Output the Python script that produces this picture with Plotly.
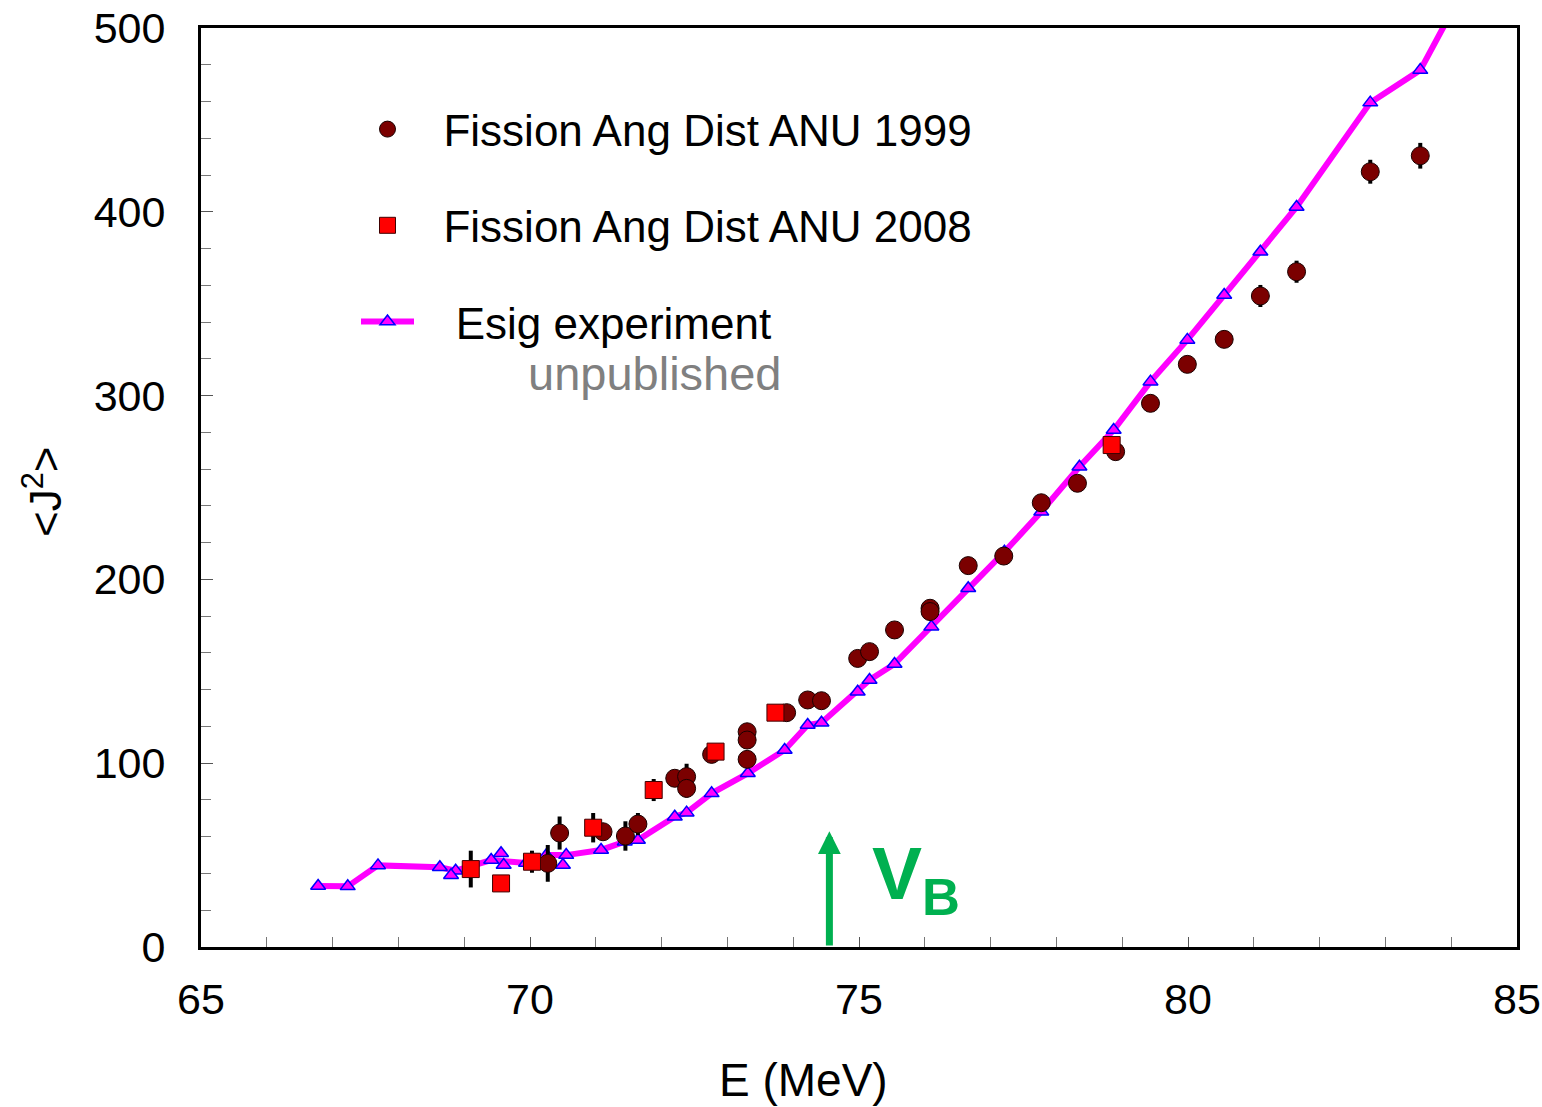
import plotly.graph_objects as go

# ---------------- data ----------------
# Fission angular distribution ANU 1999 (E, <J2>, error)
e_1999 = [70.27, 70.45, 71.11, 71.45, 71.64, 72.20, 72.38, 72.38, 72.76, 73.30, 73.30, 73.30,
          73.90, 74.22, 74.43, 74.98, 75.16, 75.54, 76.08, 76.08, 76.66, 77.20, 77.77, 78.32,
          78.90, 79.43, 79.99, 80.55, 81.10, 81.65, 82.77, 83.53]
j2_1999 = [45.5, 62.0, 62.7, 60.4, 66.9, 91.8, 92.7, 86.3, 104.8, 117.1, 112.6, 102.1,
           127.5, 134.4, 134.0, 157.0, 160.7, 172.5, 184.3, 182.5, 207.5, 212.7, 241.7, 252.3,
           269.5, 295.8, 317.0, 330.6, 354.2, 367.4, 421.8, 430.5]
err_1999 = [10, 9, 4, 8, 6, 4, 7, 5, 3, 3, 3, 3,
            2, 2, 2, 2, 2, 2, 2, 2, 2, 2, 2, 2,
            2, 3, 4, 4, 6, 6, 6.5, 7]

# Fission angular distribution ANU 2008
e_2008 = [69.10, 69.56, 70.03, 70.96, 71.88, 72.82, 73.73, 78.84]
j2_2008 = [42.4, 34.6, 46.4, 64.9, 85.4, 106.3, 127.5, 273.1]
err_2008 = [10, 3, 6, 8, 6, 3, 2, 2]

# Esig experiment (line through points)
e_esig = [66.78, 67.23, 67.69, 68.63, 68.87, 69.41, 69.94, 70.25, 70.55, 71.08, 71.44, 71.64,
          72.20, 72.38, 72.76, 73.31, 73.87, 74.22, 74.43, 74.98, 75.16, 75.54, 76.10, 76.66,
          77.21, 77.77, 78.35, 78.87, 79.43, 79.99, 80.55, 81.10, 81.65, 82.77, 83.53, 84.10]
j2_esig = [33.2, 33.0, 44.4, 43.4, 41.5, 47.3, 45.7, 50.0, 50.0, 52.8, 57.3, 58.2,
           70.9, 73.1, 83.6, 94.5, 107.2, 120.8, 122.0, 138.9, 145.3, 154.0, 174.3, 195.2,
           215.0, 236.8, 261.3, 281.3, 307.6, 330.3, 354.7, 378.3, 402.6, 459.4, 477.1, 515.0]
# Esig points lying slightly off the line
e_esig_extra = [68.80, 69.56, 69.60, 70.50]
j2_esig_extra = [39.0, 51.0, 44.6, 44.6]

VB_E = 74.55       # Coulomb barrier position (MeV)
VB_TIP = 63        # arrow tip height

x_ticks = [65, 70, 75, 80, 85]
y_ticks = [0, 100, 200, 300, 400, 500]

FONT = "Liberation Sans, Arial, sans-serif"
NB = "\u00a0"

fig = go.Figure()

fig.add_trace(go.Scatter(
    x=e_esig, y=j2_esig, mode="lines+markers",
    name=NB * 3 + "Esig experiment", legendrank=3, legendgroup="c",
    line=dict(color="#FF00FF", width=6),
    marker=dict(symbol="triangle-up", size=13, color="#FF00FF",
                line=dict(color="#0000FF", width=1.5)),
))
fig.add_trace(go.Scatter(
    x=e_esig_extra, y=j2_esig_extra, mode="markers", showlegend=False,
    marker=dict(symbol="triangle-up", size=13, color="#FF00FF",
                line=dict(color="#0000FF", width=1.5)),
))
fig.add_trace(go.Scatter(
    x=e_1999, y=j2_1999, mode="markers",
    name=NB * 2 + "Fission Ang Dist ANU 1999", legendrank=1, legendgroup="a",
    error_y=dict(type="data", array=err_1999, color="black", thickness=4, width=0),
    marker=dict(symbol="circle", size=18, color="#7B0000",
                line=dict(color="#1a0000", width=1)),
))
fig.add_trace(go.Scatter(
    x=e_2008, y=j2_2008, mode="markers",
    name=NB * 2 + "Fission Ang Dist ANU 2008", legendrank=2, legendgroup="b",
    error_y=dict(type="data", array=err_2008, color="black", thickness=4, width=0),
    marker=dict(symbol="square", size=17, color="#FF0000",
                line=dict(color="#400000", width=1)),
))

W, H = 1542, 1107
L, R, T, B = 201, 25, 28, 160
pw, ph = W - L - R, H - T - B


def px2paper(px, py):
    return (px - L) / pw, (H - B - py) / ph


annotations = []
ax_, ay_ = px2paper(803, 1080)
annotations.append(dict(text="E (MeV)", x=ax_, y=ay_, xref="paper", yref="paper",
                        showarrow=False, font=dict(family=FONT, size=46, color="black"),
                        xanchor="center", yanchor="middle"))
ax_, ay_ = px2paper(42, 492)
annotations.append(dict(text="&lt;J<sup>2</sup>&gt;", x=ax_, y=ay_, xref="paper", yref="paper",
                        showarrow=False, textangle=-90,
                        font=dict(family=FONT, size=44, color="black"),
                        xanchor="center", yanchor="middle"))
ax_, ay_ = px2paper(655, 374)
annotations.append(dict(text="unpublished", x=ax_, y=ay_, xref="paper", yref="paper",
                        showarrow=False, font=dict(family=FONT, size=47, color="#808080"),
                        xanchor="center", yanchor="middle"))
# V_B arrow
annotations.append(dict(x=VB_E, y=VB_TIP, ax=VB_E, ay=0, xref="x", yref="y",
                        axref="x", ayref="y", text="", showarrow=True,
                        arrowhead=2, arrowsize=0.65, arrowwidth=7, arrowcolor="#00B050"))
annotations.append(dict(x=VB_E + 0.61, y=37, xref="x", yref="y", showarrow=False,
                        text="<b>V<sub>B</sub></b>", xanchor="left", yanchor="middle",
                        font=dict(family=FONT, size=75, color="#00B050")))

lx, ly = px2paper(356, 94)

fig.update_layout(
    width=W, height=H,
    margin=dict(l=L, r=R, t=T, b=B, pad=0, autoexpand=False),
    paper_bgcolor="white", plot_bgcolor="white",
    font=dict(family=FONT, color="black"),
    showlegend=True,
    legend=dict(x=lx, y=ly, xanchor="left", yanchor="top",
                font=dict(family=FONT, size=44, color="black"),
                bgcolor="rgba(0,0,0,0)", borderwidth=0, itemsizing="trace",
                itemwidth=53, tracegroupgap=36, traceorder="grouped"),
    annotations=annotations,
)

fig.update_xaxes(
    range=[65, 85], tickvals=x_ticks, ticktext=[str(v) for v in x_ticks],
    showgrid=False, zeroline=False, automargin=False,
    showline=True, linecolor="black", linewidth=3, mirror=True,
    ticks="inside", ticklen=10, tickwidth=1, tickcolor="#555555",
    minor=dict(dtick=1, ticks="inside", ticklen=10, tickwidth=1, tickcolor="#777777", showgrid=False),
    tickfont=dict(family=FONT, size=43, color="black"),
    ticklabelstandoff=12,
)
fig.update_yaxes(
    range=[0, 500], tickvals=y_ticks, ticktext=[str(v) for v in y_ticks],
    showgrid=False, zeroline=False, automargin=False,
    showline=True, linecolor="black", linewidth=3, mirror=True,
    ticks="inside", ticklen=12, tickwidth=1, tickcolor="#555555",
    minor=dict(dtick=20, ticks="inside", ticklen=10, tickwidth=1, tickcolor="#777777", showgrid=False),
    tickfont=dict(family=FONT, size=43, color="black"),
    ticklabelstandoff=24,
)

fig.write_html("out.html")
